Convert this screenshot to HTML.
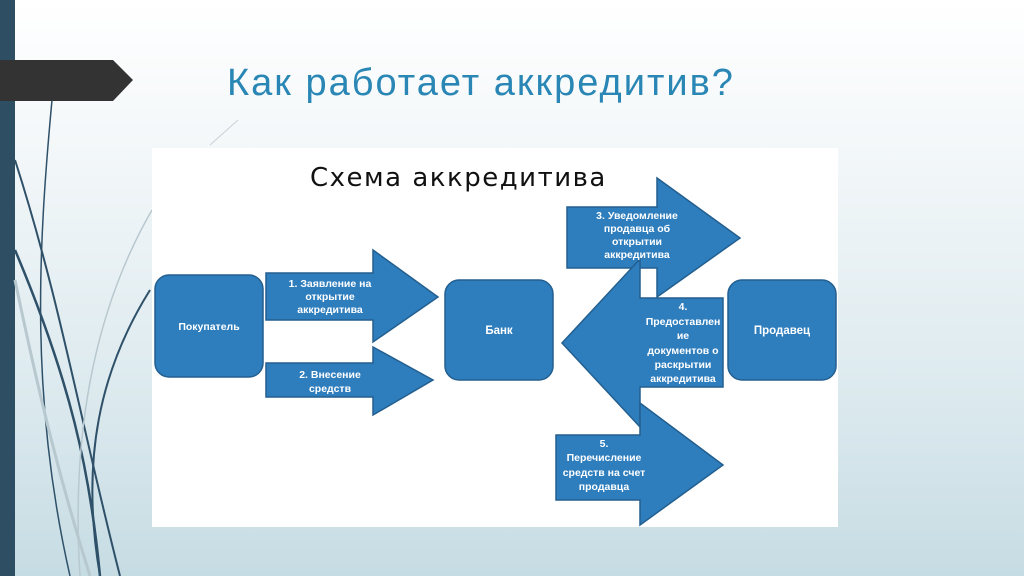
<!DOCTYPE html>
<html><head><meta charset="utf-8"><style>
html,body{margin:0;padding:0;width:1024px;height:576px;overflow:hidden}
body{background:linear-gradient(180deg,#ffffff 0%,#f1f6f8 30%,#dbe9ee 70%,#c6dce3 100%);font-family:"Liberation Sans","DejaVu Sans",sans-serif}
</style></head><body>
<svg width="1024" height="576" viewBox="0 0 1024 576" xmlns="http://www.w3.org/2000/svg" style="position:absolute;left:0;top:0">
<rect x="0" y="0" width="15" height="576" fill="#2e4e63"/>
<g fill="none">
<path d="M15 160 C60 300,80 420,120 576" stroke="#2e5069" stroke-width="2"/>
<path d="M52 100 C38 250,30 400,70 576" stroke="#2e5069" stroke-width="1.5"/>
<path d="M15 250 C70 380,90 470,100 576" stroke="#2e5069" stroke-width="2.5"/>
<path d="M150 290 C100 370,80 460,100 576" stroke="#2e5069" stroke-width="2"/>
<path d="M152 210 C100 300,70 420,80 576" stroke="#b8c8cf" stroke-width="1.5"/>
<path d="M15 280 C40 400,60 480,90 576" stroke="#b8c8cf" stroke-width="3"/>
<path d="M238 120 L210 145" stroke="#c8d2d6" stroke-width="1"/>
</g>
<path d="M0 60 L113 60 L133 80 L113 101 L0 101 Z" fill="#333333"/>
<text x="227" y="95" font-size="38" letter-spacing="2" fill="#2a87b5" font-family="Liberation Sans, DejaVu Sans, sans-serif">Как работает аккредитив?</text>
<rect x="152" y="148" width="686" height="379" fill="#ffffff"/>
<text x="310" y="186" font-size="26" letter-spacing="1.5" fill="#111" font-family="DejaVu Sans, sans-serif">Схема аккредитива</text>
<g fill="#2e7dbd" stroke="#235f8f" stroke-width="1.5">
<rect x="155" y="275" width="108" height="102" rx="14"/>
<rect x="445" y="280" width="108" height="100" rx="14"/>
<rect x="728" y="280" width="108" height="100" rx="14"/>
<path d="M266 273 L373 273 L373 250 L438 297 L373 342 L373 320 L266 320 Z"/>
<path d="M266 363 L373 363 L373 347 L433 380 L373 415 L373 397 L266 397 Z"/>
<path d="M567 207 L657 207 L657 178 L740 238 L657 297 L657 268 L567 268 Z"/>
<path d="M723 298 L640 298 L640 259 L562 343 L640 427 L640 387 L723 387 Z"/>
<path d="M556 435 L640 435 L640 403 L723 465 L640 525 L640 500 L556 500 Z"/>
</g>
<g fill="#ffffff" font-size="10.5" font-weight="bold" text-anchor="middle" font-family="Liberation Sans, DejaVu Sans, sans-serif">
<text x="209" y="330">Покупатель</text>
<text x="499" y="334" font-size="11.5">Банк</text>
<text x="782" y="334" font-size="11.5">Продавец</text>
<text x="330" y="287">1. Заявление на</text>
<text x="330" y="300">открытие</text>
<text x="330" y="313">аккредитива</text>
<text x="330" y="378">2. Внесение</text>
<text x="330" y="392">средств</text>
<text x="637" y="219">3. Уведомление</text>
<text x="637" y="232">продавца об</text>
<text x="637" y="245">открытии</text>
<text x="637" y="258">аккредитива</text>
<text x="683" y="310">4.</text>
<text x="683" y="325">Предоставлен</text>
<text x="683" y="339">ие</text>
<text x="683" y="354">документов о</text>
<text x="683" y="368">раскрытии</text>
<text x="683" y="382">аккредитива</text>
<text x="604" y="447">5.</text>
<text x="604" y="461">Перечисление</text>
<text x="604" y="476">средств на счет</text>
<text x="604" y="490">продавца</text>
</g>
</svg>
</body></html>
